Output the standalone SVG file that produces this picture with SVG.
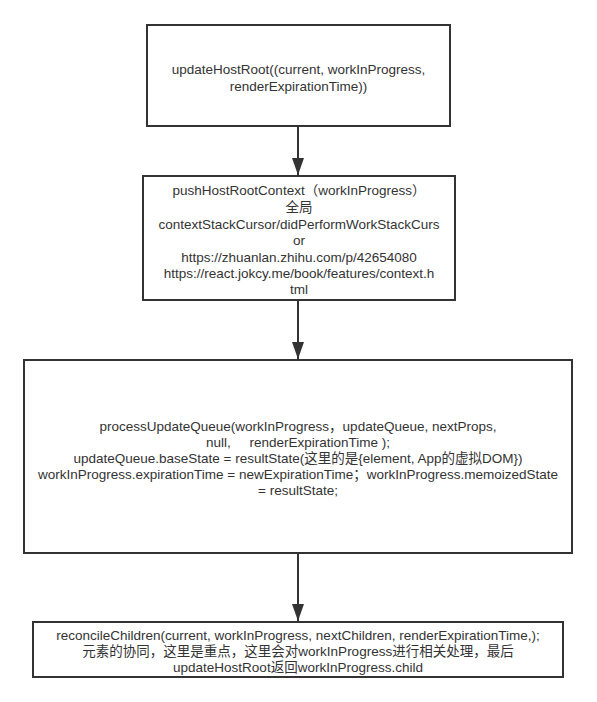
<svg xmlns="http://www.w3.org/2000/svg" width="597" height="702" viewBox="0 0 597 702">
<style>
.box{fill:#fff;stroke:#333;stroke-width:2}
.t{font-family:"Liberation Sans","Noto Sans CJK SC",sans-serif;font-size:13.5px;fill:#333;text-anchor:middle;white-space:pre}
.edge{stroke:#333;stroke-width:2;fill:none;marker-end:url(#ah)}
</style>
<defs>
<marker id="ah" markerUnits="userSpaceOnUse" markerWidth="18" markerHeight="14" viewBox="0 0 18 14" refX="17" refY="7" orient="auto">
<path d="M0,1 L17,7 L0,13 Z" fill="#333"/>
</marker>
</defs>
<rect width="597" height="702" fill="#fff"/>
<g id="connectors">
<line class="edge" x1="298" y1="127" x2="298" y2="175"/>
<line class="edge" x1="298" y1="301" x2="298" y2="359"/>
<line class="edge" x1="298" y1="554" x2="298" y2="621"/>
</g>
<g id="node1">
<rect class="box" x="147" y="25" width="303" height="101"/>
<text class="t" x="298.5" y="74">updateHostRoot((current, workInProgress,</text>
<text class="t" x="298.5" y="91">renderExpirationTime))</text>
</g>
<g id="node2">
<rect class="box" x="143" y="176" width="312" height="124"/>
<text class="t" x="299" y="195">pushHostRootContext（workInProgress）</text>
<text class="t" x="299" y="212">全局</text>
<text class="t" x="299" y="229">contextStackCursor/didPerformWorkStackCurs</text>
<text class="t" x="299" y="245">or</text>
<text class="t" x="299" y="262">https://zhuanlan.zhihu.com/p/42654080</text>
<text class="t" x="299" y="278">https://react.jokcy.me/book/features/context.h</text>
<text class="t" x="299" y="294">tml</text>
</g>
<g id="node3">
<rect class="box" x="24" y="360" width="548" height="193"/>
<text class="t" x="298" y="431">processUpdateQueue(workInProgress，updateQueue, nextProps,</text>
<text class="t" x="298" y="447">null,     renderExpirationTime );</text>
<text class="t" x="298" y="463">updateQueue.baseState = resultState(这里的是{element, App的虚拟DOM})</text>
<text class="t" x="298" y="479">workInProgress.expirationTime = newExpirationTime；workInProgress.memoizedState</text>
<text class="t" x="298" y="495">= resultState;</text>
</g>
<g id="node4">
<rect class="box" x="33" y="622" width="530" height="55"/>
<text class="t" x="298" y="640">reconcileChildren(current, workInProgress, nextChildren, renderExpirationTime,);</text>
<text class="t" x="298" y="656">元素的协同，这里是重点，这里会对workInProgress进行相关处理，最后</text>
<text class="t" x="298" y="672">updateHostRoot返回workInProgress.child</text>
</g>
</svg>
